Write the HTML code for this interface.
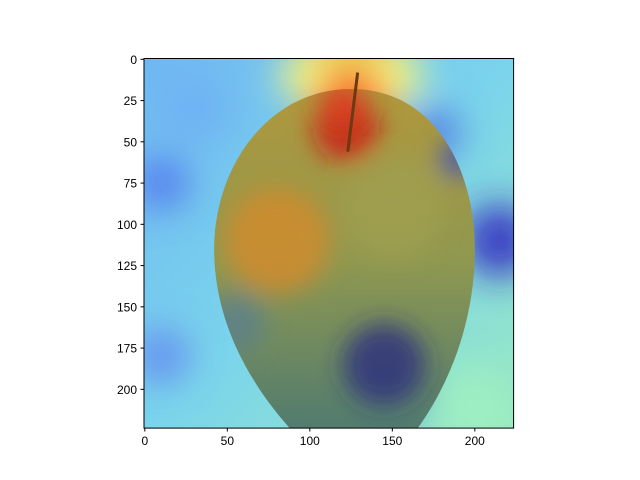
<!DOCTYPE html>
<html><head><meta charset="utf-8"><style>
body{margin:0;background:#fff;}
svg{display:block;font-family:"Liberation Sans",sans-serif;}
</style></head><body>
<svg id="chart" width="640" height="480">
<defs>
<clipPath id="clip"><rect x="144" y="58.5" width="369.6" height="369.6"/></clipPath>
<clipPath id="appleclip"><path id="applepath"/></clipPath>
<filter id="blur" x="-50%" y="-50%" width="200%" height="200%"><feGaussianBlur stdDeviation="18"/></filter>
<filter id="blur2" x="-50%" y="-50%" width="200%" height="200%"><feGaussianBlur stdDeviation="12"/></filter>
<linearGradient id="bg" x1="0" y1="0" x2="1" y2="1">
<stop offset="0" stop-color="#70b8f2"/><stop offset="0.5" stop-color="#7ad4ec"/><stop offset="1" stop-color="#98e8c4"/></linearGradient>
<linearGradient id="appleg" x1="0" y1="0" x2="0" y2="1">
<stop offset="0" stop-color="#b0983c"/><stop offset="0.5" stop-color="#8f9850"/><stop offset="1" stop-color="#4e7a70"/></linearGradient>
</defs>
<g id="plot" clip-path="url(#clip)"></g>
<rect x="144" y="58.5" width="369.6" height="369.6" fill="none" stroke="#000" stroke-width="1"/>
<g id="axes"></g>
</svg>
<script>
const xTicks=[0,50,100,150,200];
const yTicks=[0,25,50,75,100,125,150,175,200];
// heat blobs: x, y, radius, color
const blobX=[125,125,95,155,10,215,175,10,145,200,30];
const blobY=[10,30,10,10,75,110,45,180,200,210,30];
const blobR=[35,22,14,14,16,22,16,16,22,25,22];
const blobC=["#ffd040","#ff4020","#ffff80","#ffff80","#5070ee","#3020c0","#5070e0","#6080f0","#3a40b0","#a0f0c0","#6fb0f5"];
const appleBlobX=[80,122,145,190,55,150,120];
const appleBlobY=[110,42,185,60,160,90,25];
const appleBlobR=[32,20,25,12,18,30,14];
const appleBlobC=["#d88a28","#d01010","#2a2a80","#3f50c0","#5a8090","#a0a050","#e04020"];
const NS="http://www.w3.org/2000/svg";
const sx=v=>144+(v+0.5)*1.65, sy=v=>58.5+(v+0.5)*1.65;
const plot=document.getElementById('plot'), axes=document.getElementById('axes');
function mk(t,a,p){const e=document.createElementNS(NS,t);for(const k in a)e.setAttribute(k,a[k]);p.appendChild(e);return e;}
let bg=mk('rect',{x:144,y:58.5,width:369.6,height:369.6,fill:'url(#bg)'},plot);


const bgBlobs=mk('g',{filter:'url(#blur)'},plot);
blobX.forEach((x,i)=>{const c=mk('circle',{cx:sx(x),cy:sy(blobY[i]),r:blobR[i]*1.65,fill:blobC[i],opacity:0.85},bgBlobs);

});
const d=`M${sx(125)} ${sy(18)} C${sx(178)} ${sy(18)} ${sx(200)} ${sy(70)} ${sx(200)} ${sy(115)} C${sx(200)} ${sy(165)} ${sx(180)} ${sy(205)} ${sx(162)} ${sy(228)} L${sx(92)} ${sy(228)} C${sx(70)} ${sy(205)} ${sx(42)} ${sy(165)} ${sx(42)} ${sy(115)} C${sx(42)} ${sy(65)} ${sx(75)} ${sy(18)} ${sx(125)} ${sy(18)} Z`;
document.getElementById('applepath').setAttribute('d',d);
const ax=mk('path',{d:d,fill:'url(#appleg)'},plot);


const agc=mk('g',{'clip-path':'url(#appleclip)'},plot);
const ag=mk('g',{filter:'url(#blur2)'},agc);
appleBlobX.forEach((x,i)=>{const c=mk('circle',{cx:sx(x),cy:sy(appleBlobY[i]),r:appleBlobR[i]*1.65,fill:appleBlobC[i],opacity:0.75},ag);

});
const st=mk('path',{d:`M${sx(123)} ${sy(56)} L${sx(129)} ${sy(8)}`,stroke:'#6a3a10','stroke-width':3,fill:'none'},plot);


xTicks.forEach(v=>{const x=sx(v);mk('line',{x1:x,x2:x,y1:428,y2:431.5,stroke:'#000'},axes);
const t=mk('text',{x:x,y:445,'font-size':12,'text-anchor':'middle'},axes);t.textContent=v;

});
yTicks.forEach(v=>{const y=sy(v);mk('line',{x1:140.5,x2:144,y1:y,y2:y,stroke:'#000'},axes);
const t=mk('text',{x:137,y:y+4.5,'font-size':12,'text-anchor':'end'},axes);t.textContent=v;

});
</script>
</body></html>
